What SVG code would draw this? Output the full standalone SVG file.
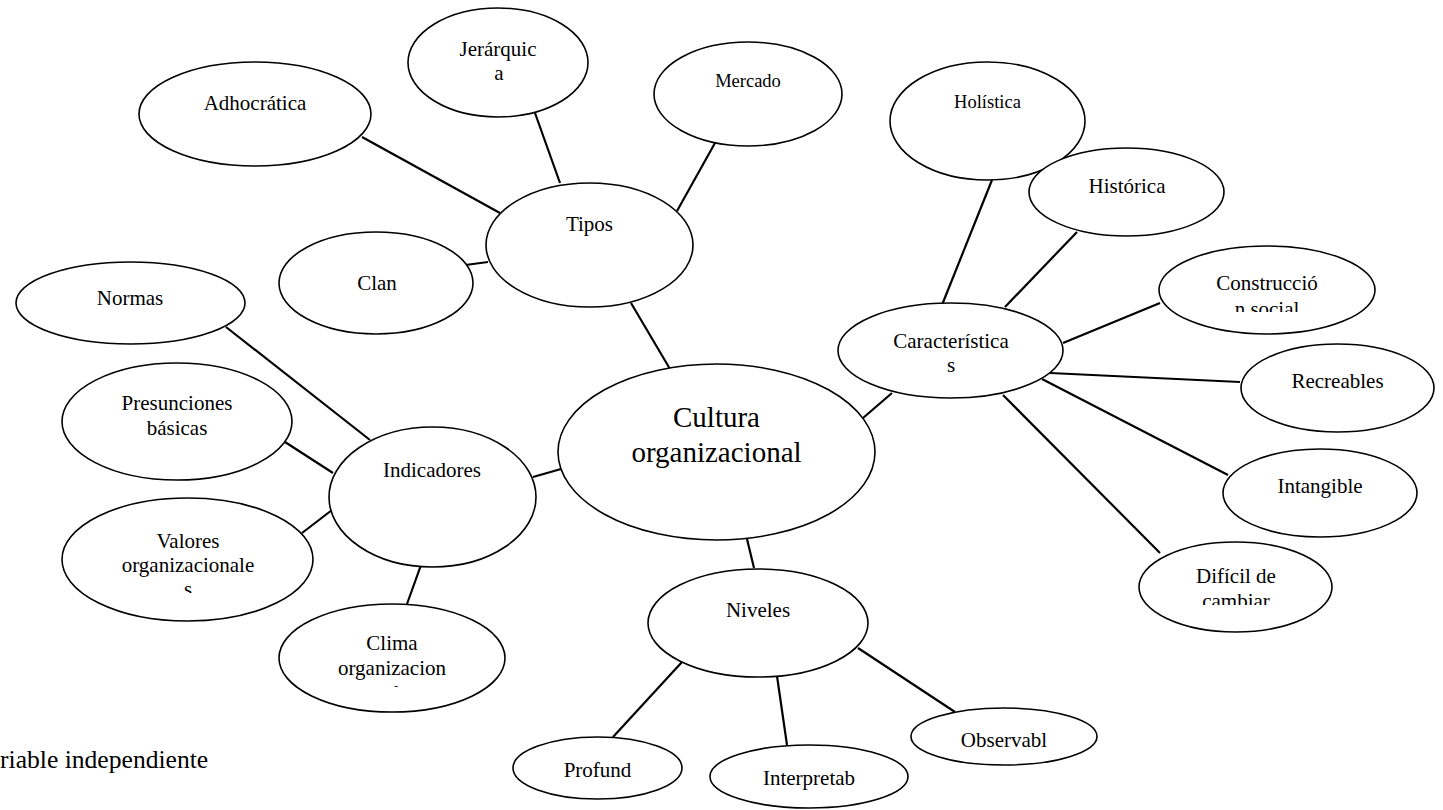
<svg xmlns="http://www.w3.org/2000/svg" width="1443" height="810" viewBox="0 0 1443 810">
<style>
ellipse{fill:#fff;stroke:#000;stroke-width:1.6}
#connectors line{stroke:#000;stroke-width:2.2}
text{font-family:"Liberation Serif","Times New Roman",serif;font-size:21px;fill:#000;text-anchor:middle}
.sm{font-size:18.5px}
.big{font-size:29px}
.cap{font-size:25.6px;text-anchor:start}
</style>
<defs>
<clipPath id="cV"><rect x="60" y="580" width="260" height="13"/></clipPath>
<clipPath id="cC"><rect x="280" y="678" width="230" height="9"/></clipPath>
<clipPath id="cS"><rect x="1160" y="295" width="215" height="17"/></clipPath>
<clipPath id="cD"><rect x="1140" y="590" width="195" height="15"/></clipPath>
</defs>
<rect width="1443" height="810" fill="#fff"/>
<g id="connectors">
<line x1="362" y1="137" x2="500" y2="213"/>
<line x1="535" y1="113" x2="560" y2="183"/>
<line x1="715" y1="143" x2="677" y2="211"/>
<line x1="458" y1="266" x2="488" y2="262"/>
<line x1="631" y1="303" x2="670" y2="369"/>
<line x1="992" y1="180" x2="942" y2="305"/>
<line x1="1077" y1="232" x2="1005" y2="307"/>
<line x1="1160" y1="303" x2="1063" y2="343"/>
<line x1="1050" y1="373" x2="1240" y2="382"/>
<line x1="1042" y1="379" x2="1228" y2="475"/>
<line x1="1003" y1="395" x2="1160" y2="553"/>
<line x1="863" y1="418" x2="892" y2="393"/>
<line x1="226" y1="327" x2="370" y2="440"/>
<line x1="285" y1="442" x2="333" y2="473"/>
<line x1="302" y1="533" x2="332" y2="510"/>
<line x1="421" y1="565" x2="407" y2="604"/>
<line x1="533" y1="477" x2="561" y2="469"/>
<line x1="747" y1="539" x2="754" y2="568"/>
<line x1="682" y1="662" x2="613" y2="737"/>
<line x1="777" y1="676" x2="787" y2="745"/>
<line x1="858" y1="648" x2="955" y2="712"/>
</g>
<g id="adhocratica"><ellipse cx="255" cy="114" rx="116" ry="52"/><text x="255" y="110">Adhocrática</text></g>
<g id="jerarquica"><ellipse cx="498" cy="62.5" rx="90" ry="54.5"/><text x="498" y="56">Jerárquic</text><text x="499" y="80">a</text></g>
<g id="mercado"><ellipse cx="748" cy="94" rx="94" ry="52"/><text class="sm" x="748" y="87">Mercado</text></g>
<g id="tipos"><ellipse cx="589.5" cy="245" rx="103.5" ry="62"/><text x="589.5" y="231">Tipos</text></g>
<g id="clan"><ellipse cx="376" cy="283" rx="97" ry="51"/><text x="377" y="290">Clan</text></g>
<g id="normas"><ellipse cx="130.5" cy="303" rx="114.5" ry="41"/><text x="130" y="305">Normas</text></g>
<g id="presunciones"><ellipse cx="177" cy="421.5" rx="115" ry="58.5"/><text x="177" y="410">Presunciones</text><text x="177" y="435">básicas</text></g>
<g id="indicadores"><ellipse cx="432.5" cy="497" rx="103.5" ry="70"/><text x="432" y="477">Indicadores</text></g>
<g id="valores"><ellipse cx="187.5" cy="559.5" rx="125.5" ry="61.5"/><text x="188" y="548">Valores</text><text x="188" y="572">organizacionale</text><text x="188" y="596" clip-path="url(#cV)">s</text></g>
<g id="clima"><ellipse cx="392" cy="658" rx="113" ry="54"/><text x="392" y="650">Clima</text><text x="392" y="675">organizacion</text><text x="392" y="700" clip-path="url(#cC)">al</text></g>
<g id="cultura"><ellipse cx="716.5" cy="452" rx="158.5" ry="88"/><text class="big" x="716.5" y="427">Cultura</text><text class="big" x="716.5" y="462">organizacional</text></g>
<g id="holistica"><ellipse cx="987.5" cy="121" rx="97.5" ry="59"/><text class="sm" x="987.5" y="108">Holística</text></g>
<g id="historica"><ellipse cx="1126.5" cy="192" rx="97.5" ry="44"/><text x="1127" y="193">Histórica</text></g>
<g id="caracteristicas"><ellipse cx="950.5" cy="350.5" rx="112.5" ry="47.5"/><text x="951" y="348">Característica</text><text x="951" y="372">s</text></g>
<g id="construccion"><ellipse cx="1267" cy="290" rx="108" ry="44"/><text x="1267" y="290">Construcció</text><text x="1267" y="316" clip-path="url(#cS)">n social</text></g>
<g id="recreables"><ellipse cx="1337.5" cy="388" rx="96.5" ry="44"/><text x="1337.5" y="388">Recreables</text></g>
<g id="intangible"><ellipse cx="1320" cy="493" rx="97" ry="44"/><text x="1320" y="493">Intangible</text></g>
<g id="dificil"><ellipse cx="1235.5" cy="587" rx="96.5" ry="45"/><text x="1236" y="583">Difícil de</text><text x="1236" y="608" clip-path="url(#cD)">cambiar</text></g>
<g id="niveles"><ellipse cx="758" cy="623" rx="110" ry="54"/><text x="758" y="617">Niveles</text></g>
<g id="profund"><ellipse cx="597.5" cy="768" rx="84.5" ry="31"/><text x="597.5" y="777">Profund</text></g>
<g id="interpretab"><ellipse cx="809" cy="776.5" rx="99" ry="31.5"/><text x="809" y="785">Interpretab</text></g>
<g id="observabl"><ellipse cx="1004" cy="736.5" rx="93" ry="28.5"/><text x="1004" y="747">Observabl</text></g>
<text class="cap" x="0" y="768">riable independiente</text>
</svg>
